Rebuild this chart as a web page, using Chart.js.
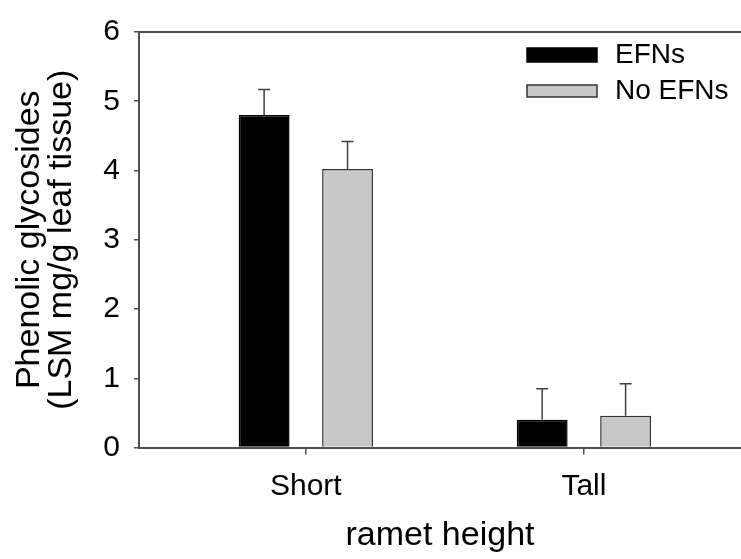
<!DOCTYPE html>
<html><head><meta charset="utf-8">
<script src="https://cdn.jsdelivr.net/npm/chart.js@4"></script>
<style>html,body{margin:0;padding:0;background:#fff;overflow:hidden}</style>
</head><body>
<canvas id="c" width="741" height="559"></canvas>
<script>
const categories = ['Short', 'Tall'];
const categoryPositions = [1, 2];
const seriesNames = ['EFNs', 'No EFNs'];
const efnsValues = [4.80, 0.40];
const efnsErrors = [0.37, 0.45];
const noEfnsValues = [4.02, 0.46];
const noEfnsErrors = [0.40, 0.46];
const yTicks = [0, 1, 2, 3, 4, 5, 6];
const yTitle = ['Phenolic glycosides', '(LSM mg/g leaf tissue)'];
const xTitle = 'ramet height';

const FONT = 'Liberation Sans, Arial, sans-serif';
const AXIS = '#505050';

const toPoints = vals => vals.map((v, i) => ({x: categoryPositions[i], y: v}));

const errorBars = {
  id: 'errorBars',
  afterDatasetsDraw(chart) {
    const ctx = chart.ctx, ys = chart.scales.y;
    chart.data.datasets.forEach((ds, i) => {
      const meta = chart.getDatasetMeta(i);
      meta.data.forEach((el, j) => {
        const top = ys.getPixelForValue(ds.data[j].y + ds.errors[j]);
        ctx.save();
        ctx.strokeStyle = '#404040';
        ctx.lineWidth = 1.5;
        ctx.beginPath();
        ctx.moveTo(el.x, el.y);
        ctx.lineTo(el.x, top);
        ctx.moveTo(el.x - 6, top);
        ctx.lineTo(el.x + 6, top);
        ctx.stroke();
        ctx.restore();
      });
    });
  }
};

const frameAndLegend = {
  id: 'frameAndLegend',
  afterDraw(chart) {
    const ctx = chart.ctx, a = chart.chartArea;
    ctx.save();
    ctx.strokeStyle = AXIS;
    ctx.lineWidth = 2;
    ctx.beginPath();
    ctx.moveTo(a.left - 1, a.top);
    ctx.lineTo(a.right, a.top);
    ctx.stroke();
    // legend
    const x0 = a.left + 388, rows = [55, 91];
    chart.data.datasets.forEach((ds, i) => {
      const cy = rows[i];
      const h = i === 0 ? 14 : 12;
      ctx.fillStyle = ds.backgroundColor;
      ctx.fillRect(x0, cy - h / 2, 70, h);
      ctx.strokeStyle = ds.borderColor;
      ctx.lineWidth = 1.5;
      ctx.strokeRect(x0, cy - h / 2, 70, h);
      ctx.fillStyle = '#000';
      ctx.font = '28px ' + FONT;
      ctx.textBaseline = 'middle';
      ctx.textAlign = 'left';
      ctx.fillText(ds.label, x0 + 88, cy);
    });
    ctx.restore();
  }
};

new Chart(document.getElementById('c'), {
  type: 'bar',
  data: {
    datasets: [
      {label: seriesNames[0], data: toPoints(efnsValues), errors: efnsErrors,
       backgroundColor: '#000000', borderColor: '#000000', borderWidth: 1.5},
      {label: seriesNames[1], data: toPoints(noEfnsValues), errors: noEfnsErrors,
       backgroundColor: '#c8c8c8', borderColor: '#333333', borderWidth: 1.5}
    ]
  },
  options: {
    responsive: false,
    animation: false,
    devicePixelRatio: 1,
    layout: {padding: {top: 22, right: 0, left: 0, bottom: 0}},
    categoryPercentage: 0.6,
    barPercentage: 0.61,
    plugins: {legend: {display: false}, tooltip: {enabled: false}},
    scales: {
      x: {
        type: 'linear', min: 0.4, max: 2.565, offset: false,
        afterBuildTicks: s => { s.ticks = categoryPositions.map(v => ({value: v})); },
        afterFit: s => { s.height = 111.5; },
        ticks: {
          callback: v => { const k = categoryPositions.indexOf(v); return k >= 0 ? categories[k] : ''; },
          font: {family: FONT, size: 30}, color: '#000', padding: 14,
          maxRotation: 0, autoSkip: false
        },
        grid: {offset: false, drawOnChartArea: false, drawTicks: true, tickLength: 7, color: AXIS, lineWidth: 1.5},
        border: {display: true, color: AXIS, width: 2},
        title: {display: true, text: xTitle, color: '#000',
                font: {family: FONT, size: 34, lineHeight: 1.2}, padding: {top: 0, bottom: 3}}
      },
      y: {
        min: 0, max: 6,
        afterBuildTicks: s => { s.ticks = yTicks.map(v => ({value: v})); },
        afterFit: s => { s.width = 139; },
        ticks: {font: {family: FONT, size: 30}, color: '#000', padding: 14},
        grid: {drawOnChartArea: false, drawTicks: true, tickLength: 5, color: AXIS, lineWidth: 1.5},
        border: {display: true, color: AXIS, width: 2},
        title: {display: true, text: yTitle, color: '#000',
                font: {family: FONT, size: 34, lineHeight: 0.95}, padding: {top: 13, bottom: 0}}
      }
    }
  },
  plugins: [errorBars, frameAndLegend]
});
</script>
</body></html>
